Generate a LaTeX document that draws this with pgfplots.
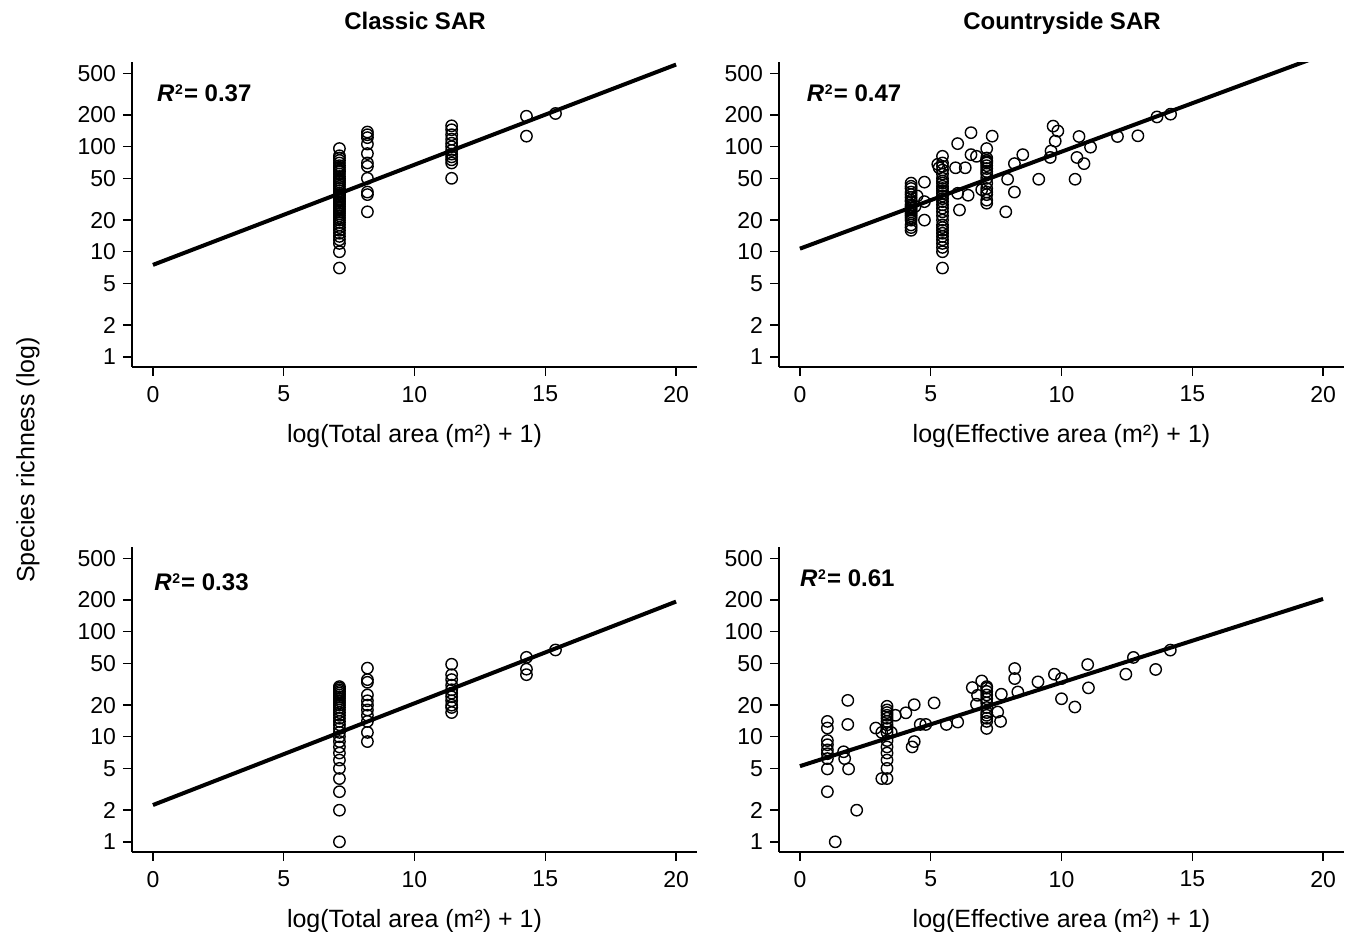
\documentclass[border=0pt]{standalone}
\usepackage{pgfplots}
\pgfplotsset{compat=1.18}
\usepackage{fontspec}
\setmainfont{Liberation Sans}

\pgfplotsset{
 sarstyle/.style={
   scale only axis, width=282.5pt, height=152.5pt,
   anchor=south west,
   xmin=-0.8, xmax=20.8, ymin=0.8, ymax=640,
   axis lines=left, axis line style={-, line width=0.7pt},
   tick style={line width=0.7pt, black}, tick align=outside, major tick length=4.5pt,
   xtick={0,5,10,15,20}, xticklabels={0,5,10,15,20},
   ytick={1,2,5,10,20,50,100,200,500}, yticklabels={1,2,5,10,20,50,100,200,500},
   yminorticks=false, xminorticks=false,
   ticklabel style={font=\fontsize{11.5}{13}\selectfont},
   xticklabel style={yshift=-1.5pt},
   xlabel style={font=\fontsize{12.5}{14}\selectfont, at={(axis description cs:0.5,-0.226)}, anchor=center},
 },
 mydots/.style={only marks, mark=o, mark size=2.85pt, mark options={line width=0.7pt, black}},
 myfit/.style={no marks, black, line width=2pt},
}
\newcommand{\rsq}[1]{\fontsize{12}{14}\selectfont\bfseries\textit{R}\kern0.3pt\raisebox{0.55ex}{\fontsize{7}{8}\selectfont 2}\kern0.6pt= #1}

\begin{document}
\begin{tikzpicture}
\path (0,0) rectangle (675pt,466pt);

% ---------- Top left: Classic SAR ----------
\begin{axis}[ymode=log, sarstyle, at={(66pt,282.5pt)}, xlabel={log(Total area (m²) + 1)}]
\addplot[mydots] table {
x y
7.13 7
7.13 10
7.13 12
7.13 13
7.13 14
7.13 15
7.13 16
7.13 17
7.13 18
7.13 19
7.13 20
7.13 21
7.13 22
7.13 23
7.13 24
7.13 25
7.13 26
7.13 27
7.13 28
7.13 29
7.13 30
7.13 31
7.13 32
7.13 33
7.13 34
7.13 35
7.13 36
7.13 38
7.13 40
7.13 42
7.13 44
7.13 46
7.13 48
7.13 50
7.13 52
7.13 55
7.13 58
7.13 60
7.13 63
7.13 66
7.13 70
7.13 74
7.13 78
7.13 82
7.13 96
8.2 138
8.2 130
8.2 122
8.2 106
8.2 86
8.2 70
8.2 65
8.2 50
8.2 37
8.2 35
8.2 24
11.42 158
11.42 145
11.42 130
11.42 118
11.42 108
11.42 100
11.42 92
11.42 85
11.42 80
11.42 75
11.42 70
11.42 50
14.28 195
14.28 126
15.39 207
};
\addplot[myfit] coordinates {(0,7.5) (20,605)};
\node[anchor=west] at (rel axis cs:0.032,0.898) {\rsq{0.37}};
\end{axis}

% ---------- Top right: Countryside SAR ----------
\begin{axis}[ymode=log, sarstyle, at={(389.5pt,282.5pt)}, xlabel={log(Effective area (m²) + 1)}]
\addplot[mydots] table {
x y
4.25 45
4.25 42
4.25 40
4.25 37
4.25 35
4.25 33
4.25 31
4.25 30
4.25 28
4.25 27
4.25 26
4.25 25
4.25 24
4.25 23
4.25 22
4.25 21
4.25 20
4.25 18
4.25 17
4.25 16
4.48 34
4.76 46
4.76 30
4.76 20
4.40 27
5.45 81
5.45 70
5.45 65
5.45 60
5.45 55
5.45 50
5.45 47
5.45 45
5.45 42
5.45 40
5.45 38
5.45 36
5.45 34
5.45 32
5.45 30
5.45 28
5.45 26
5.45 24
5.45 22
5.45 20
5.45 18
5.45 17
5.45 16
5.45 15
5.45 14
5.45 13
5.45 12
5.45 11
5.45 10
5.45 7
5.27 68
5.32 63
6.03 107
6.54 136
5.95 63
6.32 63
6.54 84
6.75 81
6.03 36
6.43 34.5
6.10 25
7.35 126
7.14 96
7.14 78
7.14 74
7.14 72
7.14 70
7.14 66
7.14 62
7.14 58
7.14 55
7.14 50
7.14 45
7.14 40
7.14 37
7.14 35
7.14 31
7.14 29
6.95 39
7.94 49
8.2 69
8.2 37
7.87 24
8.52 84
9.13 49
9.57 79
9.6 91
9.68 157
9.86 141
9.76 113
10.52 49
10.59 79
10.67 125
10.86 69
11.11 99
12.14 125
12.92 127
13.65 192
14.17 204
};
\addplot[myfit] coordinates {(0,10.7) (20,750)};
\node[anchor=west] at (rel axis cs:0.037,0.898) {\rsq{0.47}};
\end{axis}

% ---------- Bottom left ----------
\begin{axis}[ymode=log, sarstyle, at={(66pt,40pt)}, xlabel={log(Total area (m²) + 1)}]
\addplot[mydots] table {
x y
7.13 1
7.13 2
7.13 3
7.13 4
7.13 5
7.13 6
7.13 7
7.13 8
7.13 9
7.13 10
7.13 11
7.13 12
7.13 13
7.13 14
7.13 15
7.13 16
7.13 17
7.13 18
7.13 19
7.13 20
7.13 21
7.13 22
7.13 23
7.13 24
7.13 25
7.13 26
7.13 27
7.13 28
7.13 29
7.13 30
8.2 45
8.2 35
8.2 33
8.2 25
8.2 22
8.2 20
8.2 18
8.2 16
8.2 14
8.2 11
8.2 9
11.42 49
11.42 39
11.42 35
11.42 31
11.42 28
11.42 26
11.42 24
11.42 22
11.42 20
11.42 19
11.42 17
14.28 57
14.28 44
14.28 39
15.39 67
};
\addplot[myfit] coordinates {(0,2.24) (20,193.5)};
\node[anchor=west] at (rel axis cs:0.027,0.885) {\rsq{0.33}};
\end{axis}

% ---------- Bottom right ----------
\begin{axis}[ymode=log, sarstyle, at={(389.5pt,40pt)}, xlabel={log(Effective area (m²) + 1)}]
\addplot[mydots] table {
x y
1.05 14
1.05 12.1
1.05 9.2
1.05 8.4
1.05 7.5
1.05 6.9
1.05 6.2
1.05 4.94
1.05 3.0
1.35 1
1.67 7.2
1.71 6.2
1.83 22.2
1.83 13.1
1.86 4.94
2.17 2
2.9 12.1
3.13 11
3.33 19.5
3.33 18
3.33 17
3.33 16
3.33 15
3.33 14
3.33 13
3.33 12
3.33 11
3.33 9.2
3.33 8
3.33 7
3.33 6
3.33 5
3.33 4
3.13 4
3.49 11
3.65 16
4.05 16.9
4.37 20.2
4.29 8
4.37 9
4.6 13.1
4.81 13.1
5.13 21
5.6 13.1
6.03 13.8
6.59 29.4
6.79 24.8
6.75 20.4
6.95 34
7.14 30
7.14 29
7.14 27
7.14 25
7.14 23
7.14 21
7.14 19
7.14 17
7.14 16
7.14 15
7.14 14
7.14 12
7.56 17.2
7.67 14
7.7 25.4
8.21 44.6
8.21 35.8
8.33 26.7
9.1 33.3
9.73 39.4
10.0 35.8
10.0 23
10.51 19.2
11.0 48.7
11.03 29.2
12.46 39.4
12.75 56.9
13.6 43.7
14.16 66.8
};
\addplot[myfit] coordinates {(0,5.25) (20,205)};
\node[anchor=west] at (rel axis cs:0.025,0.898) {\rsq{0.61}};
\end{axis}

\node[anchor=base, font=\fontsize{12}{14}\selectfont\bfseries] at (207.5pt,451pt) {Classic SAR};
\node[anchor=base, font=\fontsize{12}{14}\selectfont\bfseries] at (531pt,451pt) {Countryside SAR};
\node[rotate=90, anchor=center, font=\fontsize{12.5}{14}\selectfont] at (14pt,236pt) {Species richness (log)};

\pgfresetboundingbox
\useasboundingbox (0,0) rectangle (675pt,466pt);
\end{tikzpicture}
\end{document}
